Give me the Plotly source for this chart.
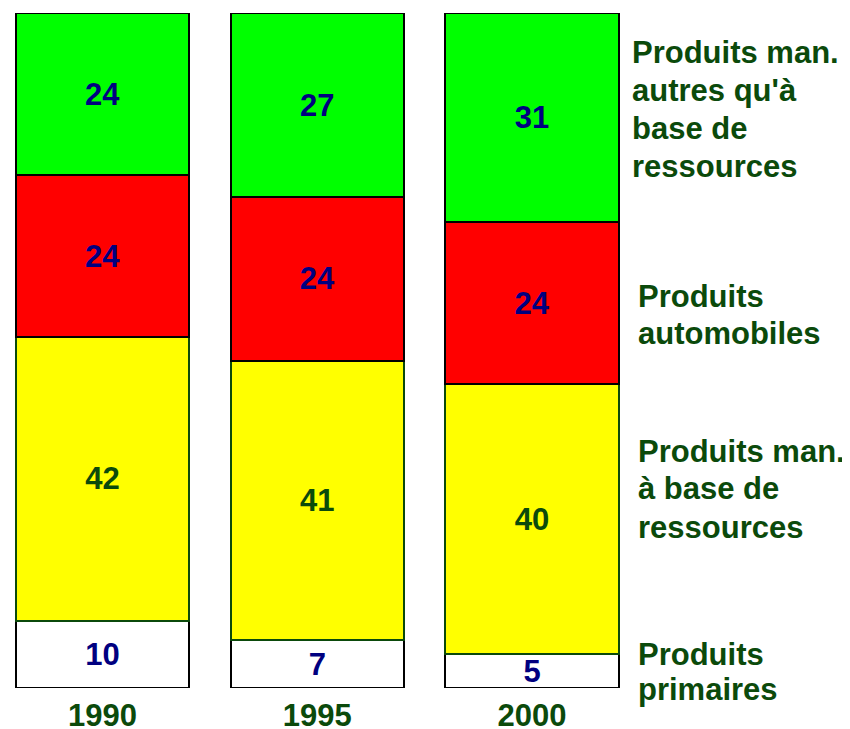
import plotly.graph_objects as go

years = ["1990", "1995", "2000"]
primaires = [10, 7, 5]
ressources = [42, 41, 40]
automobiles = [24, 24, 24]
autres = [24, 27, 31]

series_names = [
    "Produits primaires",
    "Produits man. à base de ressources",
    "Produits automobiles",
    "Produits man. autres qu'à base de ressources",
]
series_values = [primaires, ressources, automobiles, autres]
fill_colors = ["#FFFFFF", "#FFFF00", "#FF0000", "#00FF00"]
line_colors = ["#000000", "#0B4A0B", "#000000", "#000000"]
text_colors = ["#000080", "#0B4A0B", "#000080", "#000080"]

legend_lines = [
    ["Produits", "primaires"],
    ["Produits man.", "à base de", "ressources"],
    ["Produits", "automobiles"],
    ["Produits man.", "autres qu'à", "base de", "ressources"],
]

FONT = "Arial, Liberation Sans, sans-serif"
GREEN_TXT = "#0B4A0B"
FS = 31

# page offset (body margin) and geometry in screen pixels
OFF = 8
W, H = 850, 729
top_s, bottom_s = 13, 688
top_f, bottom_f = top_s - OFF, bottom_s - OFF
ph = bottom_f - top_f

fig = go.Figure()
for name, vals, fc, lc, tc in zip(series_names, series_values, fill_colors, line_colors, text_colors):
    fig.add_trace(go.Bar(
        x=years, y=vals, name=name,
        marker=dict(color=fc, line=dict(color=lc, width=2)),
        text=[str(v) for v in vals],
        textposition="inside", insidetextanchor="middle",
        constraintext="none", textangle=0,
        textfont=dict(family=FONT, size=FS, color=tc, weight="bold"),
        hoverinfo="skip",
    ))

def py(screen_y):
    return (bottom_f - (screen_y - OFF)) / ph

def px(screen_x):
    return (screen_x - OFF - 2) / W

ann_layout = [
    (638, [654, 689]),
    (638, [451, 489, 527]),
    (638, [296, 334]),
    (632, [52, 91, 129, 166]),
]
for (xs, ys), lines in zip(ann_layout, legend_lines):
    for yy, txt in zip(ys, lines):
        fig.add_annotation(
            x=px(xs), y=py(yy), xref="paper", yref="paper",
            xanchor="left", yanchor="middle", align="left",
            text=txt, showarrow=False,
            font=dict(family=FONT, size=FS, color=GREEN_TXT, weight="bold"),
        )

pitch = 214.75
c0 = 102.5
fig.update_layout(
    width=W, height=H,
    barmode="stack", barnorm="percent", bargap=0.194,
    showlegend=False,
    plot_bgcolor="white", paper_bgcolor="white",
    margin=dict(l=0, r=0, t=top_f, b=H - bottom_f),
    xaxis=dict(
        type="category",
        range=[(OFF - c0) / pitch, (OFF + W - c0) / pitch],
        showgrid=False, zeroline=False, showline=False, ticks="",
        ticklabelstandoff=6,
        tickfont=dict(family=FONT, size=FS, color=GREEN_TXT, weight="bold"),
    ),
    yaxis=dict(range=[0, 100], visible=False),
)

fig.write_html("out.html")
